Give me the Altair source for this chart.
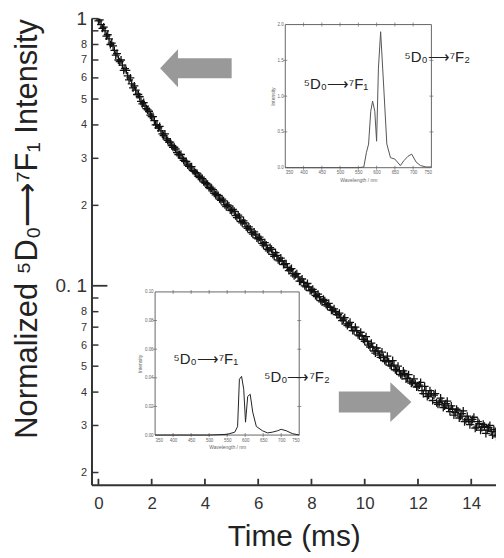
import altair as alt
import pandas as pd

# ---- main decay data ----
time_ms = [0.0, 0.1, 0.2, 0.3, 0.4, 0.5, 0.6, 0.7, 0.8, 0.9,
           1.0, 1.1, 1.2, 1.3, 1.4, 1.5, 1.6, 1.7, 1.8, 1.9,
           2.0, 2.1, 2.2, 2.3, 2.4, 2.5, 2.6, 2.7, 2.8, 2.9,
           3.0, 3.1, 3.2, 3.3, 3.4, 3.5, 3.6, 3.7, 3.8, 3.9,
           4.0, 4.1, 4.2, 4.3, 4.4, 4.5, 4.6, 4.7, 4.8, 4.9,
           5.0, 5.1, 5.2, 5.3, 5.4, 5.5, 5.6, 5.7, 5.8, 5.9,
           6.0, 6.1, 6.2, 6.3, 6.4, 6.5, 6.6, 6.7, 6.8, 6.9,
           7.0, 7.1, 7.2, 7.3, 7.4, 7.5, 7.6, 7.7, 7.8, 7.9,
           8.0, 8.1, 8.2, 8.3, 8.4, 8.5, 8.6, 8.7, 8.8, 8.9,
           9.0, 9.1, 9.2, 9.3, 9.4, 9.5, 9.6, 9.7, 9.8, 9.9,
           10.0, 10.1, 10.2, 10.3, 10.4, 10.5, 10.6, 10.7, 10.8, 10.9,
           11.0, 11.1, 11.2, 11.3, 11.4, 11.5, 11.6, 11.7, 11.8, 11.9,
           12.0, 12.1, 12.2, 12.3, 12.4, 12.5, 12.6, 12.7, 12.8, 12.9,
           13.0, 13.1, 13.2, 13.3, 13.4, 13.5, 13.6, 13.7, 13.8, 13.9,
           14.0, 14.1, 14.2, 14.3, 14.4, 14.5, 14.6, 14.7, 14.8, 14.9,
           15.0]
intensity = [0.98, 0.95, 0.93, 0.86, 0.84, 0.81, 0.76, 0.74, 0.69, 0.67,
             0.65, 0.61, 0.60, 0.55, 0.54, 0.52, 0.49, 0.485, 0.46, 0.45,
             0.43, 0.415, 0.40, 0.395, 0.37, 0.37, 0.35, 0.345, 0.33, 0.325,
             0.31, 0.31, 0.295, 0.292, 0.28, 0.279, 0.268, 0.264, 0.254, 0.252,
             0.243, 0.240, 0.231, 0.229, 0.219, 0.218, 0.209, 0.208, 0.198, 0.199,
             0.191, 0.190, 0.180, 0.181, 0.172, 0.172, 0.164, 0.163, 0.156, 0.156,
             0.150, 0.149, 0.142, 0.142, 0.135, 0.137, 0.129, 0.130, 0.124, 0.124,
             0.121, 0.117, 0.115, 0.111, 0.110, 0.108, 0.104, 0.103, 0.099, 0.099,
             0.096, 0.095, 0.091, 0.091, 0.087, 0.088, 0.084, 0.083, 0.081, 0.080,
             0.078, 0.076, 0.075, 0.072, 0.072, 0.070, 0.068, 0.068, 0.065, 0.065,
             0.062, 0.062, 0.059, 0.059, 0.056, 0.057, 0.054, 0.054, 0.052, 0.052,
             0.050, 0.0505, 0.048, 0.048, 0.046, 0.047, 0.045, 0.044, 0.0435, 0.043,
             0.042, 0.0435, 0.0395, 0.0405, 0.039, 0.0395, 0.0390, 0.0365, 0.0365, 0.037,
             0.0355, 0.0370, 0.0338, 0.0345, 0.0335, 0.034, 0.0325, 0.0340, 0.0315, 0.0315,
             0.031, 0.0322, 0.0296, 0.0305, 0.0295, 0.0298, 0.0288, 0.0300, 0.0276, 0.0285,
             0.0275]

# second set of recorded points (interleaved half steps)
time_ms_b = [0.05, 0.15, 0.25, 0.35, 0.45, 0.55, 0.65, 0.75, 0.85, 0.95,
             1.05, 1.15, 1.25, 1.35, 1.45, 1.55, 1.65, 1.75, 1.85, 1.95,
             2.05, 2.15, 2.25, 2.35, 2.45, 2.55, 2.65, 2.75, 2.85, 2.95,
             3.05, 3.15, 3.25, 3.35, 3.45, 3.55, 3.65, 3.75, 3.85, 3.95,
             4.05, 4.15, 4.25, 4.35, 4.45, 4.55, 4.65, 4.75, 4.85, 4.95,
             5.05, 5.15, 5.25, 5.35, 5.45, 5.55, 5.65, 5.75, 5.85, 5.95,
             6.05, 6.15, 6.25, 6.35, 6.45, 6.55, 6.65, 6.75, 6.85, 6.95,
             7.05, 7.15, 7.25, 7.35, 7.45, 7.55, 7.65, 7.75, 7.85, 7.95,
             8.05, 8.15, 8.25, 8.35, 8.45, 8.55, 8.65, 8.75, 8.85, 8.95,
             9.05, 9.15, 9.25, 9.35, 9.45, 9.55, 9.65, 9.75, 9.85, 9.95,
             10.05, 10.15, 10.25, 10.35, 10.45, 10.55, 10.65, 10.75, 10.85, 10.95,
             11.05, 11.15, 11.25, 11.35, 11.45, 11.55, 11.65, 11.75, 11.85, 11.95,
             12.05, 12.15, 12.25, 12.35, 12.45, 12.55, 12.65, 12.75, 12.85, 12.95,
             13.05, 13.15, 13.25, 13.35, 13.45, 13.55, 13.65, 13.75, 13.85, 13.95,
             14.05, 14.15, 14.25, 14.35, 14.45, 14.55, 14.65, 14.75, 14.85, 14.95]
intensity_b = [0.99, 0.92, 0.90, 0.87, 0.80, 0.79, 0.73, 0.70, 0.70, 0.64,
               0.64, 0.59, 0.57, 0.56, 0.52, 0.51, 0.48, 0.47, 0.455, 0.435,
               0.43, 0.40, 0.39, 0.38, 0.365, 0.355, 0.345, 0.335, 0.33, 0.315,
               0.31, 0.30, 0.292, 0.283, 0.279, 0.27, 0.265, 0.257, 0.255, 0.245,
               0.242, 0.233, 0.232, 0.222, 0.220, 0.211, 0.211, 0.201, 0.201, 0.192,
               0.193, 0.183, 0.184, 0.174, 0.175, 0.166, 0.166, 0.158, 0.159, 0.151,
               0.152, 0.144, 0.145, 0.137, 0.139, 0.131, 0.133, 0.125, 0.127, 0.120,
               0.121, 0.114, 0.116, 0.109, 0.111, 0.104, 0.106, 0.100, 0.102, 0.096,
               0.097, 0.092, 0.093, 0.088, 0.089, 0.085, 0.086, 0.081, 0.082, 0.078,
               0.079, 0.074, 0.076, 0.071, 0.073, 0.068, 0.070, 0.0655, 0.067, 0.063,
               0.0645, 0.060, 0.061, 0.057, 0.0585, 0.055, 0.0565, 0.0525, 0.0545, 0.0505,
               0.0525, 0.0485, 0.050, 0.0465, 0.048, 0.0448, 0.0465, 0.0432, 0.0448, 0.0418,
               0.0425, 0.0405, 0.0420, 0.0385, 0.0405, 0.0372, 0.0395, 0.0360, 0.0380, 0.0350,
               0.0362, 0.0348, 0.0355, 0.0328, 0.0345, 0.0320, 0.0332, 0.0310, 0.0325, 0.0302,
               0.0316, 0.0293, 0.0310, 0.0288, 0.0303, 0.0280, 0.0295, 0.0285, 0.0290, 0.0272]

y_ticks_minor = [0.02, 0.03, 0.04, 0.05, 0.06, 0.07, 0.08, 0.09,
                 0.2, 0.3, 0.4, 0.5, 0.6, 0.7, 0.8, 0.9, 1.0]
y_ticks_major = [0.1]
y_ticks_all = [0.02, 0.03, 0.04, 0.05, 0.06, 0.07, 0.08, 0.09, 0.1,
               0.2, 0.3, 0.4, 0.5, 0.6, 0.7, 0.8, 0.9, 1.0]
x_ticks = [0, 2, 4, 6, 8, 10, 12, 14]

# ---- inset spectra ----
wl_early = [350, 400, 450, 500, 550, 565, 572, 578, 584, 589, 595, 600, 605,
            611, 619, 628, 638, 650, 665, 675, 686, 696, 708, 720, 735, 750]
int_early = [0.0, 0.0, 0.0, 0.0, 0.0, 0.01, 0.21, 0.33, 0.79, 0.93, 0.79, 0.37, 1.39,
             1.9, 1.17, 0.33, 0.14, 0.12, 0.03, 0.10, 0.16, 0.19, 0.08, 0.03, 0.01, 0.01]
wl_late = [350, 400, 450, 500, 550, 571, 579, 584, 590, 596, 601, 607, 614,
           621, 631, 648, 662, 675, 690, 700, 714, 731, 750]
int_late = [0.0, 0.0, 0.0, 0.0, 0.0005, 0.002, 0.006, 0.039, 0.041, 0.032, 0.009, 0.027, 0.0285,
            0.016, 0.006, 0.003, 0.0015, 0.002, 0.003, 0.004, 0.003, 0.001, 0.0]

wl_ticks = [350, 400, 450, 500, 550, 600, 650, 700, 750]
early_y_ticks = [0, 0.5, 1, 1.5, 2]
late_y_ticks = [0, 0.02, 0.04, 0.06, 0.08, 0.1]

ann_early_x = [489, 766]
ann_early_y = [1.17, 1.54]
ann_late_x = [491, 744]
ann_late_y = [0.0528, 0.0403]
ann_text = ["\u2075D\u2080\u27f6\u2077F\u2081", "\u2075D\u2080\u27f6\u2077F\u2082"]

arrow_left_x = [3.66]
arrow_left_y = [0.652]
arrow_right_x = [10.39]
arrow_right_y = [0.0367]

W, H = 407, 469
FONT = "Liberation Sans"

xs = alt.Scale(domain=[-0.26, 14.93], nice=False, zero=False)
ys = alt.Scale(type="log", domain=[0.018, 1.0], nice=False)

label_expr = ("abs(datum.value-1)<1e-6 ? '1\u00a0\u00a0' : "
              "abs(datum.value-0.1)<1e-6 ? '0. 1\u00a0' : "
              "(abs(datum.value-0.9)<1e-6 || abs(datum.value-0.09)<1e-6) ? '' : "
              "datum.value < 0.1 ? format(datum.value*100,'.0f') : format(datum.value*10,'.0f')")

main_df = pd.DataFrame({"t": time_ms + time_ms_b, "I": intensity + intensity_b})
pts = alt.Chart(main_df).mark_point(
    shape="M-1,0L1,0M0,-1L0,1", size=64, filled=False, color="#111",
    strokeWidth=1.3, opacity=1, clip=True
).encode(
    x=alt.X("t:Q", scale=xs, axis=alt.Axis(
        values=x_ticks, ticks=False, tickSize=0, grid=False,
        domainColor="#333", domainWidth=2, labelFont=FONT, labelFontSize=17,
        labelColor="#333", labelPadding=11, title="Time (ms)", titleFont=FONT,
        titleFontSize=30, titleFontWeight="normal", titleColor="#222",
        titleBaseline="alphabetic", titleY=61)),
    y=alt.Y("I:Q", scale=ys, axis=alt.Axis(
        values=y_ticks_all, ticks=False, tickSize=0, grid=False,
        domainColor="#333", domainWidth=2, labelFont=FONT,
        labelFontSize={"condition": {"test": "abs(datum.value-1)<1e-6 || abs(datum.value-0.1)<1e-6", "value": 19}, "value": 11},
        labelColor="#333", labelPadding=5, labelExpr=label_expr, labelOverlap=False,
        title="Normalized \u2075D\u2080\u27f6\u2077F\u2081 Intensity", titleFont=FONT,
        titleFontSize=31, titleFontWeight="normal", titleColor="#222",
        titleAngle=270, titleBaseline="alphabetic", titleAlign="center",
        titleX=-55, titleY=211)),
)

ytm = alt.Chart(pd.DataFrame({"v": y_ticks_minor})).mark_rule(color="#333", strokeWidth=1.5).encode(
    y=alt.Y("v:Q", scale=ys, axis=None), x=alt.value(0), x2=alt.value(7))
ytM = alt.Chart(pd.DataFrame({"v": y_ticks_major})).mark_rule(color="#333", strokeWidth=1.8).encode(
    y=alt.Y("v:Q", scale=ys, axis=None), x=alt.value(0), x2=alt.value(16))
xt = alt.Chart(pd.DataFrame({"v": x_ticks})).mark_rule(color="#333", strokeWidth=1.8).encode(
    x=alt.X("v:Q", scale=xs, axis=None), y=alt.value(H), y2=alt.value(H - 6))

arrow_l = alt.Chart(pd.DataFrame({"x": arrow_left_x, "y": arrow_left_y})).mark_point(
    shape="M-1,0L-0.5,-0.53L-0.5,-0.28L1,-0.28L1,0.28L-0.5,0.28L-0.5,0.53Z",
    size=72 * 72, filled=True, color="#999999", opacity=1, strokeWidth=0
).encode(x=alt.X("x:Q", scale=xs, axis=None), y=alt.Y("y:Q", scale=ys, axis=None))
arrow_r = alt.Chart(pd.DataFrame({"x": arrow_right_x, "y": arrow_right_y})).mark_point(
    shape="M1,0L0.42,-0.55L0.42,-0.29L-1,-0.29L-1,0.29L0.42,0.29L0.42,0.55Z",
    size=73 * 73, filled=True, color="#999999", opacity=1, strokeWidth=0
).encode(x=alt.X("x:Q", scale=xs, axis=None), y=alt.Y("y:Q", scale=ys, axis=None))


def inset(wl, it, ydom, yticks, xrange, yrange, ann_x, ann_y, line_color):
    sx = alt.Scale(domain=[350, 750], range=xrange, nice=False, zero=False)
    sy = alt.Scale(domain=ydom, range=yrange, nice=False, zero=False)
    x_off = -(H - yrange[0])
    y_off = -xrange[0]
    line = alt.Chart(pd.DataFrame({"w": wl, "i": it})).mark_line(
        color=line_color, strokeWidth=1).encode(
        x=alt.X("w:Q", scale=sx, axis=alt.Axis(
            orient="bottom", offset=x_off, values=wl_ticks, ticks=False, tickSize=0,
            domain=False, grid=False, labelFont=FONT, labelFontSize=4.5,
            labelColor="#666", labelPadding=2, title="Wavelength / nm",
            titleFont=FONT, titleFontSize=5, titleFontWeight="normal",
            titleColor="#666", titlePadding=3)),
        y=alt.Y("i:Q", scale=sy, axis=alt.Axis(
            orient="left", offset=y_off, values=yticks, ticks=False, tickSize=0,
            domain=False, grid=False, labelFont=FONT, labelFontSize=4.5,
            labelColor="#666", labelPadding=2, title="Intensity",
            titleFont=FONT, titleFontSize=5, titleFontWeight="normal",
            titleColor="#666", titlePadding=2)),
    )
    frame = alt.Chart(pd.DataFrame({"x0": [350], "x1": [750], "y0": [ydom[0]], "y1": [ydom[1]]})).mark_rect(
        filled=False, stroke="#666", strokeWidth=1).encode(
        x=alt.X("x0:Q", scale=sx, axis=None), x2="x1:Q",
        y=alt.Y("y0:Q", scale=sy, axis=None), y2="y1:Q")
    inner_y = yticks[1:-1]
    inner_x = wl_ticks[1:-1]
    hticks = alt.Chart(pd.DataFrame({"x": [350] * len(inner_y) + [750] * len(inner_y),
                                     "y": inner_y + inner_y})).mark_tick(
        orient="horizontal", size=4, thickness=1, color="#666").encode(
        x=alt.X("x:Q", scale=sx, axis=None), y=alt.Y("y:Q", scale=sy, axis=None))
    vticks = alt.Chart(pd.DataFrame({"x": inner_x + inner_x,
                                     "y": [ydom[0]] * len(inner_x) + [ydom[1]] * len(inner_x)})).mark_tick(
        orient="vertical", size=4, thickness=1, color="#666").encode(
        x=alt.X("x:Q", scale=sx, axis=None), y=alt.Y("y:Q", scale=sy, axis=None))
    ann = alt.Chart(pd.DataFrame({"x": ann_x, "y": ann_y, "t": ann_text})).mark_text(
        font=FONT, fontSize=15, color="#222").encode(
        x=alt.X("x:Q", scale=sx, axis=None), y=alt.Y("y:Q", scale=sy, axis=None), text="t:N")
    return [frame, hticks, vticks, line, ann]


inset_early = inset(wl_early, int_early, [0, 2], early_y_ticks, [195, 342], [150, 6],
                    ann_early_x, ann_early_y, "#555555")
inset_late = inset(wl_late, int_late, [0, 0.1], late_y_ticks, [64, 209], [419, 275],
                   ann_late_x, ann_late_y, "#222222")

chart = alt.layer(
    pts, ytm, ytM, xt, arrow_l, arrow_r, *inset_early, *inset_late
).resolve_scale(x="independent", y="independent").properties(
    width=W, height=H, padding={"left": 3, "top": 0, "right": 0, "bottom": 0}
).configure(background="white").configure_view(stroke=None)

chart.save("out.html", embed_options={"renderer": "svg", "actions": False})
